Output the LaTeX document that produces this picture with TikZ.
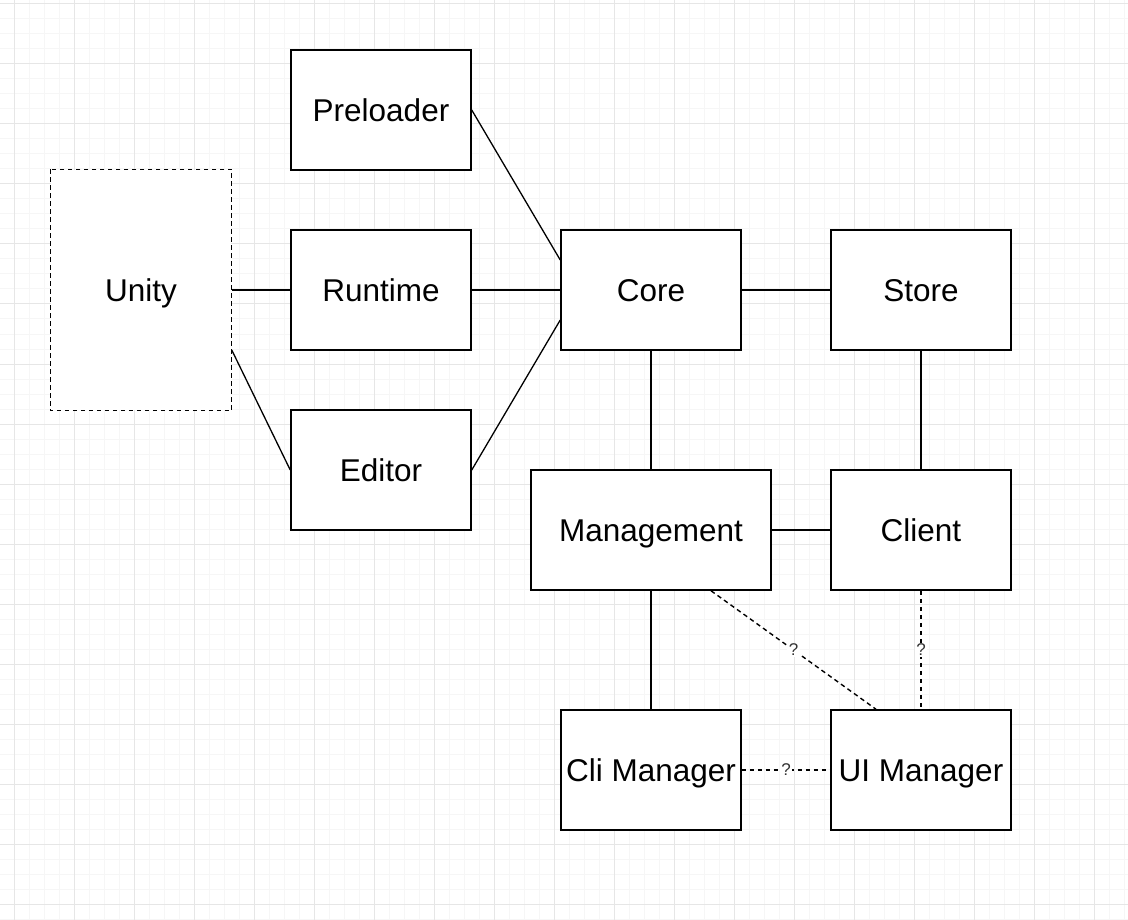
\documentclass[tikz,border=0pt]{standalone}
\usepackage{fontspec}
\setmainfont{Liberation Sans}
\usetikzlibrary{arrows}
\definecolor{gridmajor}{HTML}{E6E6E6}
\definecolor{gridminor}{HTML}{F6F6F6}
\tikzset{
  box/.style={draw=black,line width=1.5pt,fill=white,minimum width=180pt,minimum height=120pt,inner sep=0pt,text height=22.6pt,text depth=0pt,font=\fontsize{31.5}{36}\selectfont},
  link/.style={black,line width=1.3pt},
  maybe/.style={black,line width=1.4pt,dash pattern=on 4.5pt off 3.5pt},
  qmark/.style={fill=white,inner sep=1.5pt,text=black!80,font=\fontsize{17}{17}\selectfont}
}
\begin{document}
\begin{tikzpicture}[line cap=butt,line join=miter,x=1pt,y=-1pt]
\clip(0,0) rectangle (1128,920);
\fill[white] (0,0) rectangle (1128,920);
\foreach \i in {0,...,76} \draw[gridminor,line width=1pt] ({-1+15*\i},0) -- ({-1+15*\i},920);
\foreach \i in {0,...,62} \draw[gridminor,line width=1pt] (0,{4+15*\i}) -- (1128,{4+15*\i});
\foreach \i in {0,...,18} \draw[gridmajor,line width=1pt] ({14+60*\i},0) -- ({14+60*\i},920);
\foreach \i in {0,...,15} \draw[gridmajor,line width=1pt] (0,{4+60*\i}) -- (1128,{4+60*\i});
\node[box,draw=none,minimum height=240pt] (unity) at (141,290) {Unity};
\draw[maybe] (unity.north west) rectangle (unity.south east);
\node[box] (preloader) at (381,110) {Preloader};
\node[box] (runtime) at (381,290) {Runtime};
\node[box] (editor) at (381,470) {Editor};
\node[box] (core) at (651,290) {Core};
\node[box] (store) at (921,290) {Store};
\node[box,minimum width=240pt] (management) at (651,530) {Management};
\node[box] (client) at (921,530) {Client};
\node[box] (climanager) at (651,770) {Cli Manager};
\node[box] (uimanager) at (921,770) {UI Manager};
\draw [link] (unity.east) -- (runtime.west);
\draw [link] ([yshift=-60pt]unity.east) -- (editor.west);
\draw [link] (preloader.east) -- ([yshift=30pt]core.west);
\draw [link] (runtime.east) -- (core.west);
\draw [link] (editor.east) -- ([yshift=-30pt]core.west);
\draw [link] (core.east) -- (store.west);
\draw [link] (core.south) -- (management.north);
\draw [link] (store.south) -- (client.north);
\draw [link] (management.east) -- (client.west);
\draw [link] (management.south) -- (climanager.north);
\draw [maybe] ([xshift=60pt]management.south) -- node[qmark] {?} ([xshift=-45pt]uimanager.north);
\draw [maybe] (client.south) -- node[qmark] {?} (uimanager.north);
\draw [maybe] (climanager.east) -- node[qmark] {?} (uimanager.west);
\end{tikzpicture}
\end{document}
